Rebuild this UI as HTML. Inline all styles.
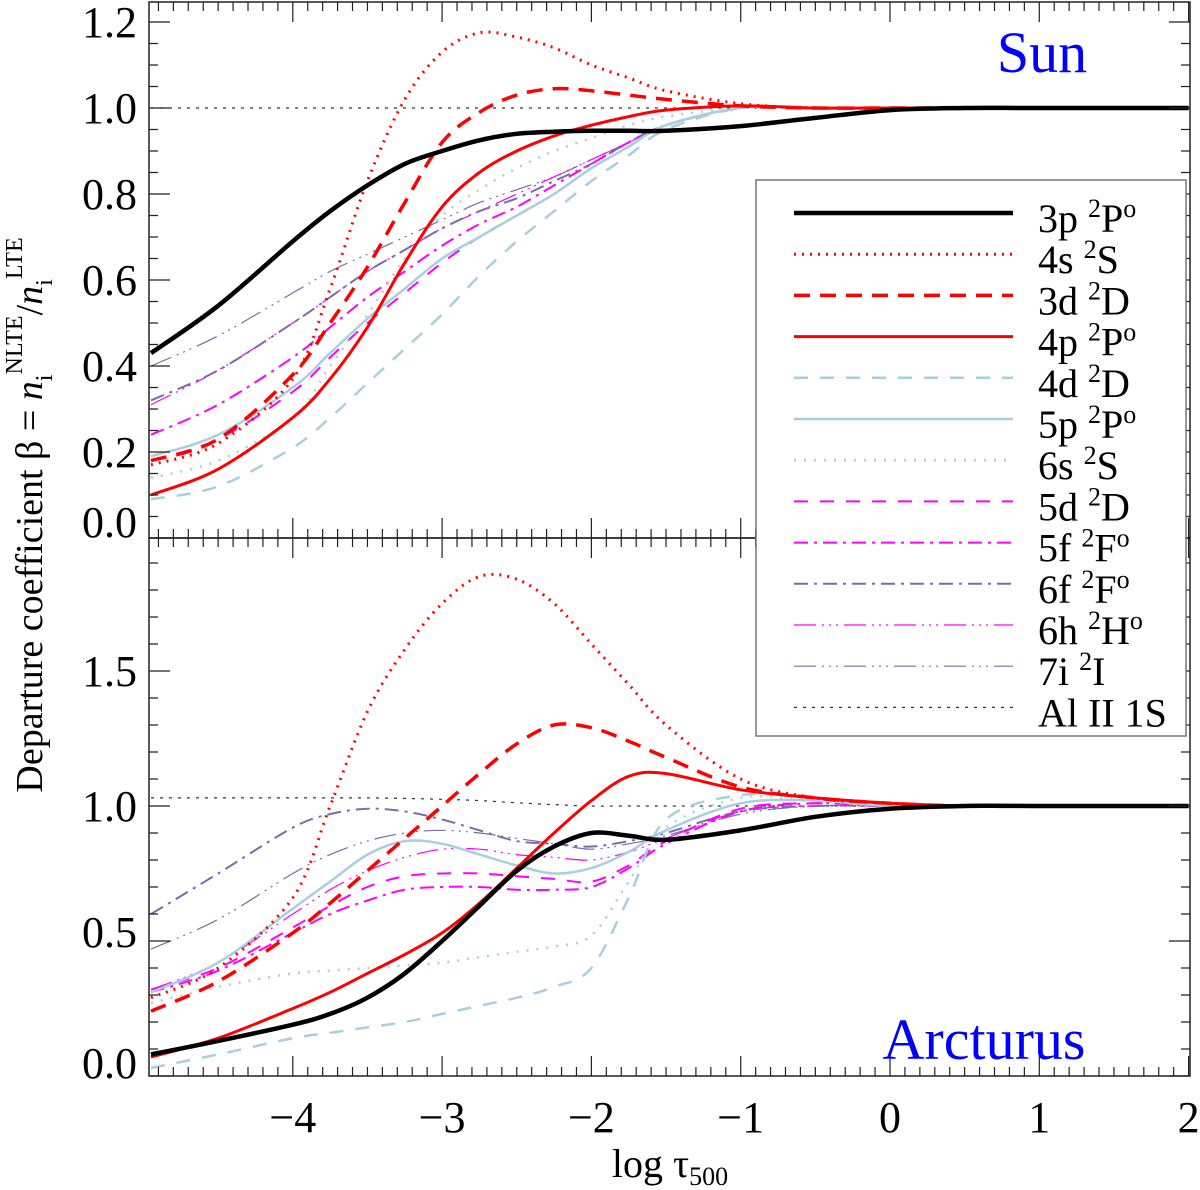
<!DOCTYPE html>
<html><head><meta charset="utf-8">
<style>
html,body{margin:0;padding:0;background:#fff;}
svg{display:block;font-family:"Liberation Serif",serif;}
</style></head>
<body>
<svg id="chart" width="1200" height="1190" viewBox="0 0 1200 1190" xmlns="http://www.w3.org/2000/svg">
<g id="curvesTop"></g>
<g id="curvesBot"></g>
<g id="axes"></g>
<text x="1042" y="72" font-size="58" fill="#0000ff" text-anchor="middle">Sun</text>
<text x="984" y="1059" font-size="58" fill="#0000ff" text-anchor="middle">Arcturus</text>
<text transform="translate(42,515) rotate(-90)" font-size="38" text-anchor="middle">Departure coefficient  β = <tspan font-style="italic">n</tspan><tspan font-size="24" dy="10">i</tspan><tspan font-size="24" dy="-30">NLTE</tspan><tspan dy="20">/</tspan><tspan font-style="italic">n</tspan><tspan font-size="24" dy="10">i</tspan><tspan font-size="24" dy="-30">LTE</tspan></text>
<text x="670" y="1177" font-size="40" text-anchor="middle">log τ<tspan font-size="26" dy="8">500</tspan></text>
<g id="legend"></g>
</svg>
<script>
const xs = [-4.95,-4.5,-4,-3.75,-3.5,-3.25,-3,-2.75,-2.5,-2.25,-2,-1.75,-1.5,-1,-0.5,0,0.5,1,2.0];
// Sun
const sun3p=[.43,.54,.69,.76,.82,.87,.90,.925,.94,.945,.947,.947,.947,.958,.977,.995,1,1,1];
const sun4s=[.17,.22,.37,.58,.83,1.02,1.13,1.175,1.165,1.14,1.10,1.07,1.04,1.01,1.0,1,1,1,1];
const sun3d=[.18,.23,.38,.50,.63,.78,.92,.99,1.03,1.045,1.04,1.03,1.02,1.005,1,1,1,1,1];
const sun4p=[.10,.16,.28,.37,.49,.64,.77,.85,.90,.935,.96,.98,.995,1.005,1,1,1,1,1];
const sun4d=[.09,.12,.21,.28,.36,.44,.52,.61,.69,.76,.83,.89,.95,1.0,1,1,1,1,1];
const sun5p=[.19,.24,.35,.43,.51,.58,.65,.70,.75,.80,.86,.91,.96,1.0,1,1,1,1,1];
const sun6s=[.14,.18,.28,.40,.52,.65,.75,.81,.86,.90,.93,.96,.98,1.0,1,1,1,1,1];
const sun5d=[.18,.23,.34,.42,.50,.57,.64,.70,.75,.80,.86,.91,.96,1.0,1,1,1,1,1];
const sun5f=[.24,.31,.42,.49,.56,.62,.68,.73,.77,.82,.87,.92,.96,1.0,1,1,1,1,1];
const sun6f=[.32,.39,.50,.56,.62,.67,.72,.76,.79,.83,.87,.92,.96,1.0,1,1,1,1,1];
const sun6h=[.31,.39,.50,.56,.62,.67,.72,.76,.80,.84,.88,.92,.96,1.0,1,1,1,1,1];
const sun7i=[.40,.47,.57,.62,.66,.70,.74,.78,.81,.84,.88,.92,.96,1.0,1,1,1,1,1];
const sunAl=[1,1,1,1,1,1,1,1,1,1,1,1,1,1,1,1,1,1,1];
// Arcturus
const arc3p=[.08,.13,.19,.23,.29,.38,.50,.63,.76,.85,.90,.89,.875,.91,.96,.99,1,1,1];
const arc4s=[.29,.40,.66,1.0,1.35,1.58,1.75,1.85,1.84,1.75,1.6,1.45,1.3,1.10,1.03,1.01,1,1,1];
const arc3d=[.24,.35,.53,.64,.76,.88,1.0,1.12,1.23,1.30,1.29,1.24,1.18,1.07,1.03,1.01,1,1,1];
const arc4p=[.07,.14,.25,.31,.38,.45,.53,.64,.77,.90,1.02,1.11,1.12,1.06,1.03,1.01,1,1,1];
const arc4d=[.03,.08,.14,.16,.18,.20,.23,.26,.29,.33,.40,.66,.95,1.04,1.03,1.0,1,1,1];
const arc5p=[.31,.42,.62,.72,.82,.87,.86,.82,.78,.75,.77,.83,.91,1.01,1.02,1.0,1,1,1];
const arc6s=[.27,.33,.38,.39,.40,.41,.42,.44,.46,.48,.52,.72,.92,1.03,1.02,1.0,1,1,1];
const arc5d=[.32,.40,.55,.63,.70,.74,.75,.75,.74,.73,.72,.78,.87,.99,1.01,1.0,1,1,1];
const arc5f=[.31,.39,.53,.60,.65,.69,.70,.70,.69,.69,.70,.77,.86,.98,1.01,1.0,1,1,1];
const arc6f=[.60,.75,.92,.97,.99,.98,.95,.91,.87,.86,.85,.87,.90,.98,1.0,1.0,1,1,1];
const arc6h=[.32,.42,.60,.69,.76,.81,.84,.84,.82,.81,.80,.83,.88,.98,1.0,1.0,1,1,1];
const arc7i=[.47,.58,.75,.82,.87,.90,.91,.90,.88,.86,.84,.86,.89,.97,1.0,1.0,1,1,1];
const arcAl=[1.03,1.03,1.03,1.03,1.03,1.028,1.025,1.02,1.012,1.005,1.0,1,1,1,1,1,1,1,1];
const xTicks=[-4,-3,-2,-1,0,1,2];
const xTickLabels=["\u22124","\u22123","\u22122","\u22121","0","1","2"];
const topTicks=[0,0.2,0.4,0.6,0.8,1.0,1.2];
const topTickLabels=["0.0","0.2","0.4","0.6","0.8","1.0","1.2"];
const botTicks=[0,0.5,1.0,1.5];
const botTickLabels=["0.0","0.5","1.0","1.5"];
const names=["3p","4s","3d","4p","4d","5p","6s","5d","5f","6f","6h","7i","Al"];
const labels=[["3p ","2","P","o"],["4s  ","2","S",""],["3d ","2","D",""],["4p ","2","P","o"],["4d ","2","D",""],["5p ","2","P","o"],["6s  ","2","S",""],["5d ","2","D",""],["5f  ","2","F","o"],["6f  ","2","F","o"],["6h ","2","H","o"],["7i  ","2","I",""],["Al II 1S","","",""]];

const styles={
 "3p":{c:"#000",w:4.5,d:""},"4s":{c:"#ff0000",w:3,d:"2 6"},"3d":{c:"#ff0000",w:3.5,d:"16 10"},
 "4p":{c:"#ff0000",w:3,d:""},"4d":{c:"#a8cfe0",w:2.5,d:"14 12"},"5p":{c:"#a8cfe0",w:2.5,d:""},
 "6s":{c:"#a8cfe0",w:2.5,d:"2 8"},"5d":{c:"#ff00ff",w:2,d:"14 12"},"5f":{c:"#ff00ff",w:2,d:"14 6 3 6"},
 "6f":{c:"#7a6ca8",w:2,d:"14 6 3 6"},"6h":{c:"#ff00ff",w:1.2,d:"22 6 2 5 2 5 2 6"},"7i":{c:"#7a6ca8",w:1.2,d:"22 6 2 5 2 5 2 6"},
 "Al":{c:"#333",w:1.2,d:"3 6"}};
const NS="http://www.w3.org/2000/svg";
const L=149,R=1190;
const X=v=>890+v*149.3;
const yTop=v=>538-v*430;
const yBot=v=>1076-v*270;
function mk(tag,attrs,parent){const e=document.createElementNS(NS,tag);for(const k in attrs)e.setAttribute(k,attrs[k]);parent.appendChild(e);return e;}
function pathFor(vals,yf){
  const p=xs.map((x,i)=>[X(x),yf(vals[i])]);
  let d="M"+p[0][0].toFixed(1)+","+p[0][1].toFixed(1);
  for(let i=0;i<p.length-1;i++){
    const p0=p[Math.max(0,i-1)],p1=p[i],p2=p[i+1],p3=p[Math.min(p.length-1,i+2)];
    const c1=[p1[0]+(p2[0]-p0[0])/6,p1[1]+(p2[1]-p0[1])/6];
    const c2=[p2[0]-(p3[0]-p1[0])/6,p2[1]-(p3[1]-p1[1])/6];
    d+=" C"+c1.map(n=>n.toFixed(1)).join(",")+" "+c2.map(n=>n.toFixed(1)).join(",")+" "+p2.map(n=>n.toFixed(1)).join(",");
  }
  return d;
}
const svg=document.getElementById("chart");
const defs=mk("defs",{},svg);
const cp1=mk("clipPath",{id:"ct"},defs);mk("rect",{x:L,y:2,width:R-L,height:536},cp1);
const cp2=mk("clipPath",{id:"cb"},defs);mk("rect",{x:L,y:538,width:R-L,height:538},cp2);
const gT=document.getElementById("curvesTop");gT.setAttribute("clip-path","url(#ct)");
const gB=document.getElementById("curvesBot");gB.setAttribute("clip-path","url(#cb)");
const sunData=[sun3p,sun4s,sun3d,sun4p,sun4d,sun5p,sun6s,sun5d,sun5f,sun6f,sun6h,sun7i,sunAl];
const arcData=[arc3p,arc4s,arc3d,arc4p,arc4d,arc5p,arc6s,arc5d,arc5f,arc6f,arc6h,arc7i,arcAl];
const order=[12,11,10,9,8,7,6,5,4,3,2,1,0];
order.forEach(i=>{
  const s=styles[names[i]];
  const a=mk("path",{d:pathFor(sunData[i],yTop),fill:"none",stroke:s.c,"stroke-width":s.w,"stroke-dasharray":s.d},gT);
  
  
  const b=mk("path",{d:pathFor(arcData[i],yBot),fill:"none",stroke:s.c,"stroke-width":s.w,"stroke-dasharray":s.d},gB);
  
  
});
// axes
const ax=document.getElementById("axes");
const fr1=mk("rect",{x:L,y:2,width:R-L,height:536,fill:"none",stroke:"#222","stroke-width":1.5},ax);


const fr2=mk("rect",{x:L,y:538,width:R-L,height:538,fill:"none",stroke:"#222","stroke-width":1.5},ax);


let tk="";
for(let v=-4.9;v<=2.001;v+=0.1){const x=X(v);const maj=Math.abs(v-Math.round(v))<0.01;const len=maj?20:9;
  tk+=`M${x},2v${len}M${x},538v${-len}M${x},538v${len}M${x},1076v${-len}`;}
for(let v=0;v<=1.245;v+=0.05){const y=yTop(v);const maj=Math.abs(v*5-Math.round(v*5))<0.01;const len=maj?21:9;tk+=`M${L},${y}h${len}M${R},${y}h${-len}`;}
for(let v=0;v<=1.99;v+=0.1){const y=yBot(v);const maj=Math.abs(v*2-Math.round(v*2))<0.01;const len=maj?21:9;tk+=`M${L},${y}h${len}M${R},${y}h${-len}`;}
const tp=mk("path",{d:tk,stroke:"#222","stroke-width":1.2,fill:"none"},ax);


xTicks.forEach((v,i)=>{const t=mk("text",{x:X(v),y:1132,"font-size":44,"text-anchor":"middle"},ax);t.textContent=xTickLabels[i];
  
  });
topTicks.forEach((v,i)=>{let y=yTop(v)+15;if(v===0)y-=16;const t=mk("text",{x:137,y:y,"font-size":44,"text-anchor":"end"},ax);t.textContent=topTickLabels[i];
  
  });
botTicks.forEach((v,i)=>{let y=yBot(v)+15;if(v===0)y-=13;if(v===0.5)y-=9;const t=mk("text",{x:137,y:y,"font-size":44,"text-anchor":"end"},ax);t.textContent=botTickLabels[i];
  
  });
// legend
const lg=document.getElementById("legend");
const box=mk("rect",{x:756,y:180,width:430,height:556,fill:"#fff",stroke:"#777","stroke-width":1.5},lg);


names.forEach((n,i)=>{
  const y=213+i*41.2;const s=styles[n];
  const l=mk("line",{x1:794,x2:1013,y1:y,y2:y,stroke:s.c,"stroke-width":s.w,"stroke-dasharray":s.d},lg);
  
  
  const t=mk("text",{x:1038,y:y+19,"font-size":40},lg);
  
  
  const lb=labels[i];
  t.appendChild(document.createTextNode(lb[0]));
  if(lb[1]){const a=mk("tspan",{"font-size":26,dy:-15},t);a.textContent=lb[1];
    const b=mk("tspan",{dy:15},t);b.textContent=lb[2];
    if(lb[3]){const c=mk("tspan",{"font-size":26,dy:-15},t);c.textContent=lb[3];}}
});
</script>
</body></html>
